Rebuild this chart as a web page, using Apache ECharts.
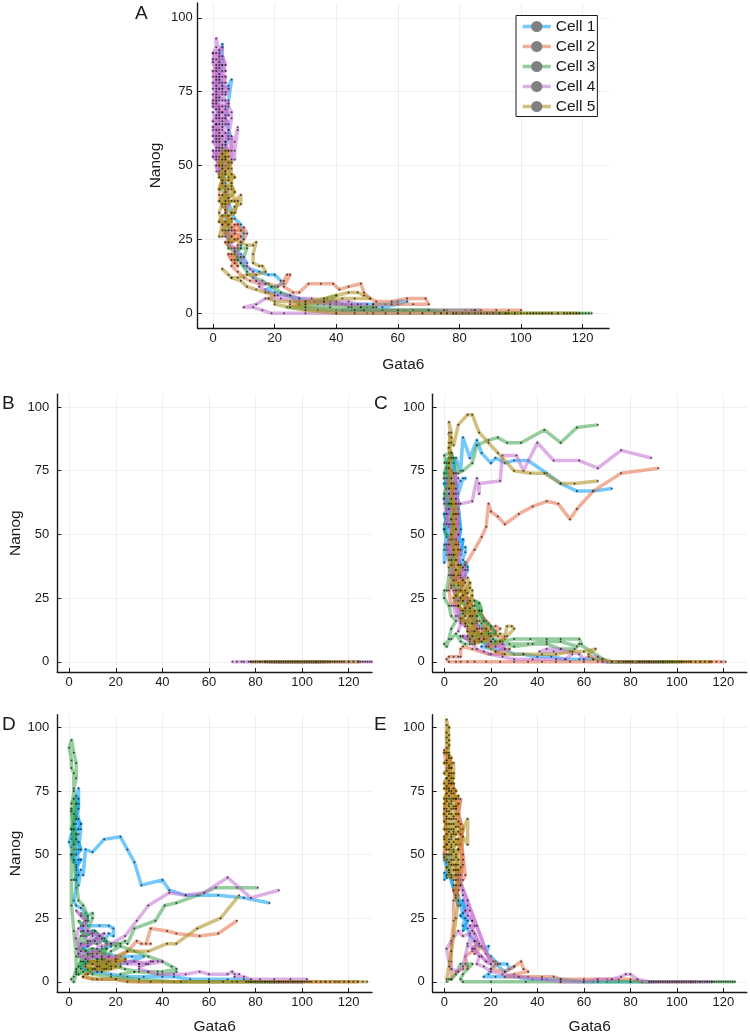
<!DOCTYPE html>
<html><head><meta charset="utf-8">
<style>html,body{margin:0;padding:0;background:#fff}#c{width:750px;height:1036px}</style>
<script src="https://cdn.jsdelivr.net/npm/echarts@6/dist/echarts.min.js"></script>
</head><body><div id="c"></div>
<script>
const cellNames=["Cell 1","Cell 2","Cell 3","Cell 4","Cell 5"];
const cellColors=["#009AFA","#E36F47","#3EA44E","#C371D2","#AC8D18"];
const gataTicks=[0,20,40,60,80,100,120];
const nanogTicks=[0,25,50,75,100];
// Panel A
const a1=[[2,55],[1,60],[2,65],[1,70],[2,74],[1,78],[2,82],[2,86],[3,91],[3,86],[2,80],[3,76],[5,77],[6,79],[5,72],[4,66],[5,62],[6,59],[5,61],[4,56],[3,50],[4,44],[5,38],[6,34],[7,32],[9,30],[10,27],[9,23],[8,20],[9,17],[11,17],[9,20],[10,16],[12,15],[15,14],[18,13],[20,13],[22,11],[23,10],[20,9],[17,8],[20,7],[24,6],[28,5],[33,4],[38,4],[43,3],[48,3],[52,3],[56,3],[60,4],[63,4],[60,3],[55,2],[50,2],[45,1],[42,1],[48,1],[55,1],[62,1],[70,1],[76,1],[82,1],[85,1],[87,1],[84,1]];
const a1z=[80,84,88,91,94,96];
const a1m=[];
const a2=[[1,80],[2,86],[1,82],[2,76],[1,72],[2,68],[1,64],[2,58],[1,54],[2,48],[3,45],[2,40],[3,36],[4,40],[5,37],[4,33],[6,31],[5,28],[7,30],[6,26],[8,25],[10,29],[11,27],[10,25],[8,23],[7,18],[6,16],[8,14],[10,12],[12,11],[15,10],[18,10],[21,9],[23,11],[24,13],[25,13],[23,9],[26,7],[28,7],[31,10],[35,10],[39,10],[41,8],[44,9],[48,10],[49,7],[51,5],[53,4],[58,4],[63,5],[69,5],[70,3],[65,3],[58,3],[52,3],[53,2],[48,2],[42,3],[35,4],[28,4],[25,3],[30,2],[40,1],[55,1],[65,1],[75,1],[85,1],[92,1],[96,1],[100,1]];
const a2z=[95,92,90,94,97,99];
const a2m=[[3,30],[5,30],[7,28],[9,28],[8,30],[6,29],[4,27],[5,25],[7,27],[9,26],[6,24],[4,24],[6,22],[8,22],[7,20],[5,20],[6,18],[8,19],[7,17],[8,16],[6,20]];
const a3=[[3,60],[2,52],[3,44],[4,36],[5,28],[5,22],[7,21],[9,22],[11,22],[10,19],[8,18],[7,21],[9,17],[11,14],[13,12],[16,11],[19,9],[22,7],[25,6],[28,3],[30,3],[34,3],[38,4],[40,6],[37,5],[33,4],[36,3],[40,3],[44,2],[48,2],[52,2],[49,1],[45,2],[38,2],[30,2],[24,2],[34,1],[46,1],[60,1],[70,1]];
const a3z=[76,80,84,88,92,95,98,101,104,107,110,112,114,116,118,119,120,121,122,123];
const a3m=[];
const a4=[[8,63],[7,58],[8,62],[7,55],[7,52],[6,55],[5,60],[6,66],[5,70],[6,68],[5,62],[4,58],[3,62],[2,58],[1,60],[2,64],[3,68],[2,72],[1,69],[0,72],[1,76],[0,80],[1,84],[0,88],[1,90],[1,93],[2,88],[1,83],[2,80],[3,84],[2,76],[3,72],[4,75],[3,78],[4,70],[3,66],[4,64],[3,60],[2,55],[1,52],[2,50],[3,53],[4,50],[3,47],[2,48],[1,56],[0,62],[1,66],[0,68],[1,64],[2,62],[1,72],[2,67],[3,74],[2,78],[1,74],[0,76],[1,80],[2,84],[3,82],[2,70],[3,64],[2,60],[1,58],[2,53],[3,57],[3,46],[4,42],[5,38],[4,34],[3,30],[4,26],[6,28],[5,24],[7,22],[9,19],[11,16],[13,14],[14,11],[17,10],[15,9],[18,7],[21,6],[25,6],[28,5],[32,5],[36,4],[40,4],[44,4],[47,3],[50,3],[45,3],[38,3],[30,4],[22,5],[17,5],[14,3],[10,2],[13,2],[16,1],[19,0],[23,0]];
const a4z=[30,40,50,60,68,74,78,82,86,90,93];
const a4m=[[1,48],[3,49],[5,50],[4,52],[2,51],[0,53],[1,55],[3,54],[5,55],[4,57],[2,56],[0,58],[1,59],[3,60],[5,59],[4,61],[2,61],[0,63],[1,64],[3,65],[5,64],[4,66],[2,66],[0,65],[1,67],[3,68],[5,67],[4,69],[2,68],[0,70],[1,71],[3,70],[5,71],[4,72],[2,73],[0,74],[1,73],[3,75],[4,74],[5,76],[3,77],[1,75],[0,78],[2,79],[4,78],[3,80],[1,79],[0,82],[2,81],[4,82],[3,84],[1,82],[0,85],[2,85],[4,84],[3,87],[1,86],[0,88],[2,89],[3,90],[2,87],[1,88],[0,86],[2,83],[4,80],[3,76],[1,77],[0,71],[2,69],[4,67],[3,63],[1,62],[0,60],[2,59],[4,58],[3,55],[1,53],[0,55],[2,52],[4,53],[3,51],[1,50],[2,47],[4,48],[6,52],[6,60]];
const a5=[[3,56],[4,53],[3,50],[5,55],[4,48],[3,44],[5,46],[6,49],[5,42],[4,38],[6,42],[7,38],[9,40],[9,37],[7,36],[6,34],[4,35],[3,37],[2,34],[3,30],[2,26],[3,26],[4,28],[6,26],[5,24],[7,25],[9,24],[11,23],[13,23],[14,24],[13,20],[13,17],[15,16],[16,16],[17,14],[14,13],[11,13],[8,12],[6,12],[3,15],[5,13],[6,12],[9,11],[11,9],[14,8],[17,7],[20,6],[18,5],[20,4],[25,4],[30,4],[36,5],[40,6],[44,7],[47,7],[49,6],[51,5],[46,5],[42,5],[36,4],[30,3],[25,2],[20,3],[30,1],[40,0]];
const a5z=[46,52,56,60,64,68,72,74,76,78,79,81,83,85,87,89,91,93,95,96,98,100,102,103,104,105,106,107,108,109,110,112,114,115,116,117,118,119];
const a5m=[[3,40],[5,39],[7,41],[6,43],[4,43],[2,42],[3,45],[5,45],[7,46],[6,47],[4,47],[2,46],[3,49],[5,49],[6,51],[4,52],[2,50],[3,54],[5,53],[4,55],[3,52],[5,51],[6,44],[4,41],[2,38],[4,37],[6,38],[8,38],[7,34],[5,33],[3,33],[2,31],[4,31],[6,32],[5,30],[3,28]];
// Panel B (all at Nanog 0)
const b1=[84,92,100,108];
const b2=[86,94,102,110];
const b3=[88,96,104,112];
const b4=[70,72,74,75,77,78,80,82,84,90,98,106,114,120,124,126,127,128,129,130];
const b5=[78,79,80,81,82,83,84,85,86,87,88,89,90,91,92,93,94,95,96,97,98,99,100,101,102,103,104,105,106,107,108,109,110,111,112,113,114,115,116,117,118,120,122,124,125];
// Panel C
const c1=[[72,68],[64,67],[57,67],[50,70],[44,74],[36,79],[30,79],[26,78],[22,80],[20,78],[16,82],[14,87],[11,80],[8,88],[7,75],[5,80],[3,75],[2,70],[3,66],[1,62],[2,58],[0,54],[1,50],[0,44],[0,39],[1,42],[2,48],[1,56],[2,62],[4,66],[6,66],[8,72],[9,72],[7,71],[5,62],[4,56],[6,50],[5,46],[7,44],[9,45],[9,43],[7,38],[6,35],[8,40],[10,36],[9,34],[7,30],[8,26],[10,22],[12,17],[15,14],[18,12],[14,10],[19,9],[22,8],[16,6],[20,5],[26,5],[30,3],[34,3],[40,2],[46,2],[52,1],[58,1],[64,1],[68,1]];
const c1z=[70,74,78,82,86,90,94,97];
const c1m=[[0,46],[2,44],[4,47],[3,50],[1,49],[0,52],[2,53],[4,52],[6,55],[5,58],[3,56],[1,55],[0,58],[2,60],[4,60],[5,64],[3,63],[1,62],[0,64],[2,66],[4,68],[3,70],[1,68],[0,70],[2,72],[3,75],[1,74],[2,78],[3,82],[4,78],[5,70],[6,60],[7,52],[6,47],[8,48],[7,42],[5,42],[3,44],[4,40],[6,40],[8,36],[9,39],[10,37]];
const c2=[[92,76],[76,74],[64,67],[57,60],[54,56],[49,62],[44,63],[38,61],[32,58],[26,54],[23,57],[20,59],[19,62],[18,53],[16,49],[13,44],[9,38],[7,35],[5,33],[4,38],[3,43],[5,47],[6,50],[5,54],[6,58],[5,62],[4,56],[3,50],[2,44],[2,37],[3,33],[2,28],[3,22],[5,24],[7,21],[9,19],[11,21],[13,18],[15,16],[18,16],[16,13],[19,12],[22,14],[24,13],[20,11],[23,10],[26,9],[22,7],[26,5],[28,5],[25,3],[19,3],[12,5],[8,6],[7,5],[7,2],[6,2],[4,2],[2,2],[1,1],[2,0],[5,0],[7,0],[10,0],[13,0]];
const c2z=[18,24,30,36,42,48,54,60,66,72,78,82,86,90,94,98,102,106,110,114,117,119,121];
const c2m=[[3,70],[4,66],[3,62],[5,58],[6,54],[4,50],[6,46],[5,42],[3,46],[2,40],[4,38],[3,34],[5,36],[6,31],[8,33],[7,28],[9,27],[8,24],[10,25],[12,22],[11,18],[13,19],[15,20],[17,17],[19,15],[17,13],[20,13],[22,12],[19,10],[17,9],[15,11],[13,14],[11,12],[14,8]];
const c3=[[66,93],[57,92],[50,86],[43,91],[33,86],[27,86],[23,88],[19,87],[14,85],[12,78],[8,75],[6,74],[4,80],[2,82],[0,81],[1,78],[0,74],[1,70],[0,66],[2,62],[1,58],[0,52],[2,48],[1,44],[3,40],[2,34],[1,28],[0,28],[0,25],[2,22],[3,18],[5,16],[3,13],[2,9],[1,6],[0,7],[3,9],[5,11],[7,8],[9,7],[11,7],[14,12],[12,17],[13,22],[15,20],[16,15],[18,12],[21,9],[25,8],[30,9],[37,9],[44,9],[50,9],[58,9],[59,7],[57,6],[50,8],[44,8],[36,7],[28,7],[22,8],[30,6],[38,7],[44,7],[50,5],[56,5],[58,7]];
const c3z=[70,74,78,82,86,90,94,98,102];
const c3m=[[0,78],[2,80],[1,76],[0,72],[2,74],[1,68],[0,64],[2,66],[1,60],[3,62],[4,30],[6,28],[5,25],[7,24],[9,22],[11,20],[8,19],[6,18],[9,16],[12,15],[14,18],[16,20],[15,23],[13,24],[17,16],[20,14],[22,11],[19,11],[16,10],[12,11],[10,9],[7,10],[13,8],[16,8],[19,7],[24,8]];
const c4=[[89,80],[76,83],[66,76],[58,79],[47,79],[40,86],[34,75],[31,81],[25,81],[24,71],[15,70],[15,66],[14,72],[12,63],[7,62],[5,64],[3,68],[1,72],[2,66],[0,62],[1,58],[2,54],[3,50],[1,46],[2,42],[4,46],[5,52],[4,58],[5,66],[6,72],[4,74],[3,70],[4,62],[6,58],[5,48],[4,42],[6,38],[8,37],[7,33],[4,34],[3,29],[5,26],[4,22],[5,18],[7,15],[6,12],[8,17],[10,13],[12,10],[14,15],[16,11],[18,9],[15,8],[12,7],[14,5],[17,4],[20,3],[25,2],[30,1],[38,1],[48,1],[52,1],[55,3],[50,5],[44,5],[41,4],[47,4],[54,4],[58,3],[60,1],[62,2],[66,2],[68,0]];
const c4z=[72,76,80,84,88,92];
const c4m=[[2,76],[3,72],[5,74],[4,68],[2,68],[3,64],[5,68],[6,62],[4,60],[2,60],[1,54],[3,54],[5,56],[6,50],[4,48],[2,46],[3,42],[5,42],[7,44],[6,38],[4,38],[3,34],[5,32],[7,34],[9,36],[8,30],[6,28],[4,28],[6,24],[8,26],[10,24],[9,20],[7,20],[5,22],[7,16],[9,14],[11,18],[13,15],[15,13],[12,12],[10,10],[8,10],[11,8],[14,9],[17,10],[20,8],[18,6],[22,6],[25,7],[26,5],[22,4]];
const c5=[[66,71],[56,70],[50,70],[43,74],[37,74],[30,75],[23,82],[19,86],[15,90],[12,97],[10,97],[6,93],[4,85],[3,88],[2,94],[3,90],[2,86],[3,82],[2,78],[4,74],[3,70],[4,66],[3,62],[5,58],[4,54],[3,50],[5,46],[4,42],[6,38],[4,34],[3,30],[5,28],[4,25],[6,22],[8,26],[9,31],[10,33],[11,29],[12,28],[11,24],[9,21],[12,18],[10,14],[13,12],[14,16],[11,9],[13,7],[16,8],[20,10],[24,11],[26,10],[27,14],[29,14],[30,13],[27,10],[24,8],[19,6],[22,4],[26,3],[34,3],[42,3],[48,3],[55,4],[60,4],[65,5],[62,3],[64,1],[68,1],[72,0]];
const c5z=[75,77,78,79,80,81,83,84,85,86,87,88,89,90,91,92,93,94,95,96,97,98,99,100,101,102,103,104,105,106,108,110,112,114,115];
const c5m=[[2,90],[3,86],[2,84],[3,80],[2,76],[3,72],[2,68],[4,70],[3,64],[5,62],[4,58],[3,56],[5,52],[3,48],[4,44],[6,44],[5,40],[3,38],[5,36],[7,38],[6,34],[4,32],[6,30],[8,32],[7,28],[5,26],[7,25],[9,28],[11,31],[10,27],[8,24],[6,22],[8,20],[10,23],[12,26],[11,21],[9,18],[7,17],[9,15],[11,18],[13,20],[12,15],[10,12],[12,10],[14,13],[15,9],[13,8],[16,11],[18,13],[17,9],[20,8]];
// Panel D
const d1=[[86,31],[75,33],[64,34],[56,34],[50,34],[43,36],[40,40],[31,38],[28,47],[25,52],[22,57],[15,56],[10,51],[7,52],[6,42],[5,44],[4,38],[3,42],[4,48],[3,52],[4,58],[3,62],[4,68],[4,76],[3,70],[4,64],[5,60],[4,52],[3,46],[2,50],[1,53],[0,55],[1,58],[2,52],[3,44],[3,37],[2,32],[3,30],[5,29],[7,27],[8,25],[6,23],[8,22],[13,22],[17,22],[19,21],[19,18],[17,19],[15,16],[18,14],[14,13],[10,12],[15,11],[22,10],[27,10],[32,10],[27,8],[22,7],[16,6],[10,5],[8,5],[12,4],[18,3],[25,2],[32,2],[40,2],[45,2],[52,1],[60,1],[68,1],[75,1]];
const d1z=[80,84,88,92,96,100];
const d1m=[[2,40],[4,42],[3,45],[5,48],[2,47],[1,50],[3,50],[5,52],[4,55],[2,55],[3,58],[1,60],[4,60],[5,62],[3,65],[4,70],[3,73],[4,72],[2,62],[1,56]];
const d1n=[[5,22],[7,18],[10,20],[13,18],[9,15],[6,13],[10,10],[14,9],[18,10],[12,7],[7,8],[5,6],[9,4],[14,4]];
const d2=[[72,24],[64,19],[56,18],[46,19],[42,20],[35,21],[33,15],[35,15],[31,15],[29,16],[25,12],[20,10],[15,9],[11,7],[14,5],[18,7],[12,5],[9,4],[7,3],[6,2],[10,1],[14,1],[20,1]];
const d2z=[30,40,50,60,70,80,90,100,110,115,120,124];
const d2m=[[8,10],[12,12],[16,10],[20,9],[14,7],[10,8]];
const d3=[[81,37],[72,37],[63,37],[55,34],[46,31],[41,30],[37,24],[28,21],[25,15],[24,16],[20,14],[16,16],[12,17],[8,15],[6,18],[5,14],[4,10],[6,8],[8,10],[10,7],[12,9],[14,7],[17,5],[15,9],[18,12],[22,14],[28,12],[34,10],[40,8],[44,6],[46,5],[40,4],[34,4],[28,4],[22,3],[28,4],[38,4],[46,4],[40,3],[30,4],[24,5],[14,8],[10,11],[7,12],[5,10],[3,13],[5,18],[8,20],[10,25],[10,27],[8,26],[6,30],[4,32],[3,40],[2,48],[3,56],[2,62],[3,70],[2,76],[3,80],[3,86],[2,90],[1,95],[0,92],[1,87],[1,84],[2,82],[2,75],[1,67],[2,60],[1,50],[1,40],[1,30],[2,20],[3,10],[3,5],[2,2],[1,1],[2,0],[3,3],[5,5],[10,3],[18,2],[30,1]];
const d3z=[45,60,70,78,84,90];
const d3m=[[5,20],[7,18],[9,19],[11,20],[13,18],[15,17],[12,15],[9,16],[6,15],[4,13],[7,12],[10,13],[13,12],[16,13],[14,10],[11,10],[8,9],[5,8],[4,6],[7,7],[10,8],[13,7],[11,5],[8,5],[6,4],[4,3],[3,4],[6,10],[9,11],[12,9],[15,8],[17,6],[14,5],[16,15],[18,15],[22,15]];
const d3n=[[5,27],[8,24],[6,22],[4,24]];
const d3o=[[2,66],[1,60],[3,58],[2,54],[1,68],[3,64],[2,72],[1,70]];
const d4=[[90,36],[78,33],[68,41],[58,35],[50,34],[43,35],[34,30],[29,24],[24,18],[18,15],[14,14],[10,18],[8,16],[6,20],[4,21],[3,17],[5,12],[8,11],[12,13],[14,17],[12,11],[9,8],[12,6],[16,8],[20,8],[25,7],[30,7],[35,8],[38,8],[40,8],[34,7],[30,7],[30,5],[34,4],[38,3],[45,3],[50,3],[56,4],[60,3],[68,3],[70,4],[71,3],[73,3],[71,2],[75,2],[78,1],[82,1],[88,1],[95,1],[102,1]];
const d4z=[100,98,96,94,92,90,88,86];
const d4m=[[3,28],[5,26],[7,24],[6,22],[8,20],[10,19],[13,18],[15,19],[11,16],[8,14],[5,15],[4,11],[7,9],[10,10],[14,10],[17,10],[21,9],[18,8],[24,8],[28,8],[33,7],[36,8],[30,6]];
const d5=[[73,34],[65,25],[55,21],[46,15],[42,15],[34,12],[25,12],[20,9],[17,8],[14,9],[12,6],[14,4],[18,5],[22,6],[16,5],[10,5],[8,3],[6,2],[12,1],[20,1],[25,0]];
const d5z=[35,48,60,66,72,76,77,78,79,80,81,82,83,84,85,86,87,88,89,90,91,92,93,94,95,96,97,98,99,100,101,102,103,104,106,108,110,112,114,116,118,120,122,124,126,128];
const d5m=[[8,8],[12,8],[16,7],[20,8],[24,9],[18,6],[13,6],[10,7],[7,6],[11,5],[15,5],[20,6]];
// Panel E
const e1=[[0,40],[1,45],[0,48],[1,50],[2,46],[3,52],[2,42],[4,38],[6,34],[7,30],[8,27],[9,25],[8,22],[10,21],[11,18],[13,16],[15,14],[17,13],[19,14],[18,11],[20,10],[22,8],[24,7],[27,7],[28,5],[30,6],[26,4],[22,7],[20,5],[19,3],[17,2],[22,2],[30,2],[38,1],[44,1],[50,1],[60,0],[64,0]];
const e1z=[70,75,80,85,90];
const e1m=[[0,43],[1,41],[2,44],[1,47],[0,50],[6,30],[8,32],[9,28],[7,26],[10,24],[8,20]];
const e2=[[2,92],[0,91],[1,84],[3,80],[2,76],[4,72],[6,72],[5,68],[7,60],[6,54],[8,50],[9,42],[8,40],[6,38],[5,34],[4,32],[4,24],[3,15],[3,8],[3,1],[5,4],[8,5],[10,6],[9,10],[12,12],[14,16],[13,11],[16,14],[18,11],[21,8],[23,7],[20,5],[26,4],[30,6],[33,8],[34,5],[36,4],[30,3],[26,2],[36,2],[42,2],[47,2],[50,1],[60,1],[70,1],[75,1],[80,1],[85,0],[90,0]];
const e2z=[96,102,108];
const e2m=[[7,72],[6,66],[8,60],[7,54],[8,46],[6,36],[5,46],[7,40],[4,36],[5,33],[8,48],[7,62],[1,90],[3,86],[1,74],[0,66],[1,58],[0,50]];
const e3=[[1,0],[2,1],[3,1],[5,3],[7,7],[9,7],[12,7],[10,5],[8,3],[7,1],[8,0]];
const e3z=[20,35,50,66,80,92,100,106,110,113,115,116,117,118,119,120,121,122,123,124,125];
const e3m=[];
const e4=[[4,42],[6,40],[7,38],[8,34],[10,30],[10,26],[12,24],[13,22],[11,19],[8,18],[6,20],[3,16],[1,13],[2,8],[3,5],[6,4],[8,6],[10,14],[12,20],[13,16],[10,15],[13,13],[15,10],[14,7],[17,6],[20,4],[25,3],[32,2],[42,1],[50,0],[60,0],[66,1],[72,1],[76,2],[78,3],[80,3],[83,1],[88,0]];
const e4z=[89,90,91,92,93,94,95,96,97,98,99,100,101,102,103,104,105,106,107,108,109,110,111,112,113,114,115];
const e4m=[[8,36],[10,32],[11,28],[9,28],[12,24],[14,22],[11,22],[13,19],[15,15],[12,13],[16,10],[18,8],[20,7],[5,44],[7,42]];
const e5=[[1,1],[2,6],[3,12],[4,18],[5,25],[6,32],[5,38],[7,45],[6,52],[8,57],[10,54],[10,64],[7,58],[6,61],[4,58],[3,54],[1,52],[0,56],[2,60],[1,64],[3,66],[2,70],[0,68],[1,72],[3,74],[2,78],[4,80],[4,86],[3,84],[2,88],[1,92],[1,103],[2,97],[1,94],[2,90],[1,86],[3,82],[1,80],[2,76],[4,74],[5,72],[3,70],[5,68],[4,64],[2,66],[1,60],[3,62],[5,64],[4,60],[2,56],[3,58],[5,56],[4,52],[2,50],[1,48],[3,48],[5,50],[6,46],[4,46],[2,44],[3,42],[5,44],[4,40],[6,42],[5,40],[7,38],[1,54],[2,72],[1,76],[3,78],[2,82],[1,68],[2,64],[3,56],[4,68],[3,72],[2,84]];
const e5z=[];
const e5m=[[1,42],[3,41],[5,42],[6,44],[4,44],[2,43],[1,45],[3,46],[5,46],[6,48],[4,48],[2,47],[0,49],[1,50],[3,50],[5,49],[6,52],[4,51],[2,52],[0,53],[1,54],[3,53],[5,54],[6,56],[4,55],[2,55],[0,57],[1,58],[3,57],[5,58],[6,59],[4,59],[2,59],[0,60],[1,62],[3,60],[5,61],[6,63],[4,62],[2,62],[0,63],[1,65],[3,64],[5,66],[6,66],[4,65],[2,67],[0,66],[1,67],[3,68],[5,69],[6,70],[4,69],[2,69],[0,70],[1,71],[3,71],[5,72],[6,73],[4,72],[2,73],[0,72],[1,74],[3,75],[5,75],[4,76],[2,75],[0,76],[1,77],[3,78],[4,78],[2,79],[0,78],[1,80],[3,80],[4,82],[2,81],[0,82],[1,83],[3,84],[2,85],[0,86],[1,87],[3,88],[2,89],[0,90],[1,90],[2,93],[1,96],[2,95],[1,98],[2,100],[1,101]];

const gap=["-","-"];
const join=(extra,main,tail)=>{let o=[];extra.forEach(e=>{if(e.length){o=o.concat(e,[gap]);}});return o.concat(main,tail.map(x=>[x,0]));};
const over=(extra)=>{let o=[];extra.forEach(e=>{if(e.length){o=o.concat(e,[gap]);}});return o;};
const panels=[
 {s:[join([a1m],a1,a1z),join([a2m],a2,a2z),join([a3m],a3,a3z),join([a4m],a4,a4z),join([a5m],a5,a5z)],o:[[a1m],[a2m],[a3m],[a4m],[a5m]],g:[197.7,609,3,328],x:[-5,128.6],y:[-5,105],yl:5,xg:29,label:"A",lx:135,ly:4},
 {s:[join([],[],b1),join([],[],b2),join([],[],b3),join([],[],b4),join([],[],b5)],o:[[],[],[],[],[]],g:[57.3,372,394.3,672],x:[-5.1,130],y:[-4,105],yl:8,xg:0,label:"B",lx:2,ly:394,noX:true},
 {s:[join([c1m],c1,c1z),join([c2m],c2,c2z),join([c3m],c3,c3z),join([c4m],c4,c4z),join([c5m],c5,c5z)],o:[[c1m],[c2m],[c3m],[c4m],[c5m]],g:[432.7,746.7,394.3,672],x:[-5,130],y:[-4,105],yl:8,xg:0,label:"C",lx:374,ly:394,noX:true,noY:true},
 {s:[join([d1m,d1n],d1,d1z),join([d2m],d2,d2z),join([d3m,d3n,d3o],d3,d3z),join([d4m],d4,d4z),join([d5m],d5,d5z)],o:[[d1m,d1n],[d2m],[d3m,d3n,d3o],[d4m],[d5m]],g:[57.3,372,714.7,992.7],x:[-5.1,130],y:[-4,105],yl:8,xg:27,label:"D",lx:2,ly:715},
 {s:[join([e1m],e1,e1z),join([e2m],e2,e2z),join([e3m],e3,e3z),join([e4m],e4,e4z),join([e5m],e5,e5z)],o:[[e1m],[e2m],[e3m],[e4m],[e5m]],g:[432.7,746.7,714.7,992.7],x:[-5,130],y:[-4,105],yl:8,xg:27,label:"E",lx:374,ly:715,noY:true}
];
const font="Liberation Sans";
const ink="#1a1a1a";
const opt={animation:false,backgroundColor:"#fff",grid:[],xAxis:[],yAxis:[],series:[],graphic:[],
 legend:{show:true,data:cellNames,orient:"vertical",left:516,top:15.5,padding:[3,2,2,5],itemWidth:28,itemHeight:14,itemGap:4,itemStyle:{color:"#808080"},
  lineStyle:{width:3.5,opacity:0.55},textStyle:{fontFamily:font,fontSize:15.5,color:ink},
  backgroundColor:"#fff",borderColor:ink,borderWidth:1,borderRadius:0,selectedMode:false,z:50}};
panels.forEach((p,i)=>{
 opt.grid.push({left:p.g[0],width:p.g[1]-p.g[0],top:p.g[2],height:p.g[3]-p.g[2],containLabel:false});
 const ax=(r,ticks)=>({type:"value",min:r[0],max:r[1],
  axisLine:{show:true,onZero:false,lineStyle:{color:ink,width:1.4}},
  axisTick:{show:true,inside:true,length:4,lineStyle:{color:ink,width:1},customValues:ticks},
  axisLabel:{color:ink,fontFamily:font,fontSize:13,customValues:ticks,formatter:v=>String(v),hideOverlap:false},
  splitLine:{show:true,lineStyle:{color:"rgba(0,0,0,0.06)",width:1}},nameMoveOverlap:false});
 const xa=ax(p.x,gataTicks);xa.gridIndex=i;xa.axisLabel.margin=4;
 if(!p.noX){Object.assign(xa,{name:"Gata6",nameLocation:"middle",nameGap:p.xg,nameTextStyle:{color:ink,fontFamily:font,fontSize:15.5}});}
 const ya=ax(p.y,nanogTicks);ya.gridIndex=i;ya.axisLabel.margin=p.yl;
 if(!p.noY){Object.assign(ya,{name:"Nanog",nameLocation:"middle",nameGap:34,nameRotate:90,nameTextStyle:{color:ink,fontFamily:font,fontSize:15.5}});}
 opt.xAxis.push(xa);opt.yAxis.push(ya);
 p.s.forEach((data,k)=>{
  const extra=over(p.o[k]);
  if(extra.length){
   opt.series.push({type:"line",name:cellNames[k]+" dense",xAxisIndex:i,yAxisIndex:i,silent:true,
    data:extra,connectNulls:false,showSymbol:false,symbol:"none",
    lineStyle:{color:cellColors[k],width:3.5,opacity:0.55,join:"round"},
    emphasis:{disabled:true},z:2+k,smooth:false});
  }
  opt.series.push({type:"line",name:cellNames[k],xAxisIndex:i,yAxisIndex:i,silent:true,
   data:data,connectNulls:false,showSymbol:true,showAllSymbol:true,symbol:"circle",symbolSize:2,
   itemStyle:{color:"rgba(0,0,0,0.66)",borderWidth:0},
   lineStyle:{color:cellColors[k],width:3.5,opacity:0.55,join:"round"},
   emphasis:{disabled:true},z:2+k,smooth:false});
 });
 opt.graphic.push({type:"text",left:p.lx,top:p.ly,silent:true,style:{text:p.label,fontFamily:font,fontSize:19,fill:ink}});
});
echarts.init(document.getElementById("c"),null,{renderer:"canvas"}).setOption(opt);
</script></body></html>
